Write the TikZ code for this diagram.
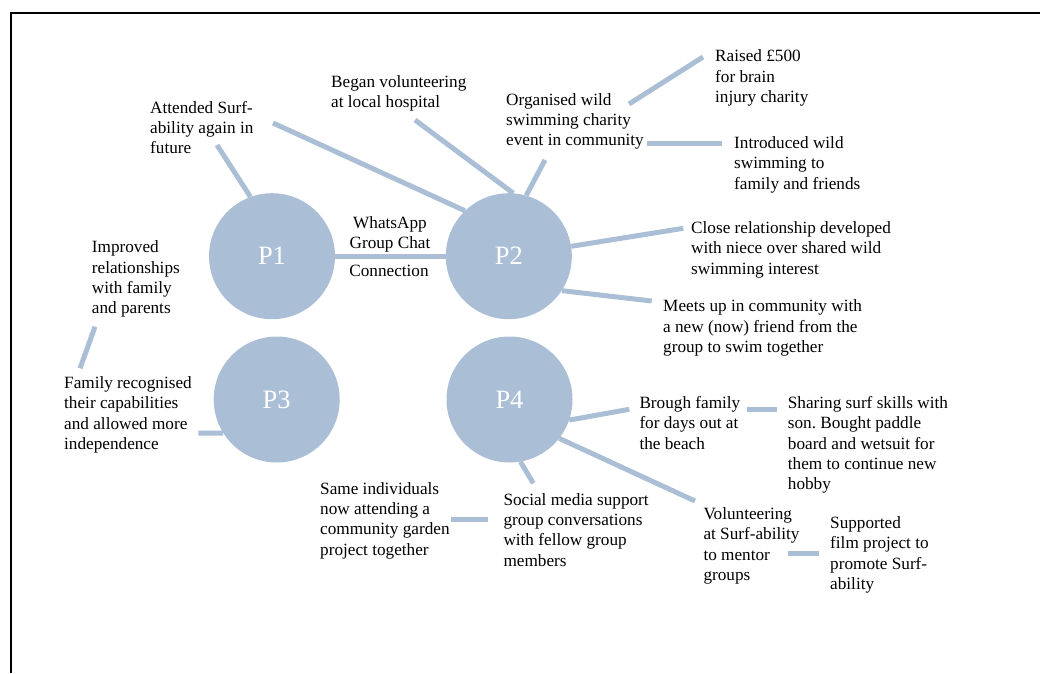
\documentclass[tikz,border=0pt]{standalone}
\usepackage{fontspec}
\setmainfont{Liberation Serif}
\definecolor{pblue}{RGB}{170,191,214}
\newcommand{\firstln}{\rule{0pt}{12pt}}
\frenchspacing
\begin{document}
\begin{tikzpicture}[x=1pt,y=-1pt,
  txt/.style={anchor=north west, inner sep=0pt, align=left, font=\fontsize{17.2}{20.3}\selectfont},
  ctxt/.style={anchor=north, inner sep=0pt, align=center, font=\fontsize{17.2}{20.3}\selectfont},
  pcircle/.style={circle, fill=pblue, draw=none, minimum size=126pt, inner sep=0pt, text=white, font=\fontsize{26.5}{30}\selectfont},
  conn/.style={draw=pblue, line width=5pt}]
\useasboundingbox (0,0) rectangle (1040,673);
\fill[white] (0,0) rectangle (1040,673);
% frame
\draw[line width=2pt] (11,673) -- (11,13) -- (1040,13);

% circles
\node[pcircle] (p1) at (272,256.2) {P1};
\node[pcircle] (p2) at (508.8,256.2) {P2};
\node[pcircle] (p3) at (276.7,399.5) {P3};
\node[pcircle] (p4) at (509.5,399.5) {P4};

% texts
\node[txt] (t1) at (150,100.7) {\firstln Attended Surf-\\ability again in\\future};
\node[txt] (t2) at (331,75.3) {\firstln Began volunteering\\at local hospital};
\node[txt] (t3) at (506,93) {\firstln Organised wild\\swimming charity\\event in community};
\node[txt] (t4) at (715,49.7) {\firstln Raised £500\\for brain\\injury charity};
\node[txt] (t5) at (734,136.3) {\firstln Introduced wild\\swimming to\\family and friends};
\node[txt] (t6) at (691,221.3) {\firstln Close relationship developed\\with niece over shared wild\\swimming interest};
\node[txt] (t7) at (663,299.7) {\firstln Meets up in community with\\a new (now) friend from the\\group to swim together};
\node[ctxt] (t8) at (390,216.3) {\firstln WhatsApp\\Group Chat};
\node[ctxt] (t9) at (389,264) {\firstln Connection};
\node[txt] (t10) at (91.7,240.7) {\firstln Improved\\relationships\\with family\\and parents};
\node[txt] (t11) at (64,376.3) {\firstln Family recognised\\their capabilities\\and allowed more\\independence};
\node[txt] (t12) at (320,482) {\firstln Same individuals\\now attending a\\community garden\\project together};
\node[txt] (t13) at (503.3,493) {\firstln Social media support\\group conversations\\with fellow group\\members};
\node[txt] (t14) at (639.3,396.3) {\firstln Brough family\\for days out at\\the beach};
\node[txt] (t15) at (787.7,396.3) {\firstln Sharing surf skills with\\son. Bought paddle\\board and wetsuit for\\them to continue new\\hobby};
\node[txt] (t16) at (703.3,507.3) {\firstln Volunteering\\at Surf-ability\\to mentor\\groups};
\node[txt] (t17) at (830,516.3) {\firstln Supported\\film project to\\promote Surf-\\ability};

% free ends of connectors
\coordinate (ca) at (217,145);
\coordinate (cb) at (273,123);
\coordinate (cc) at (415,120);
\coordinate (cd) at (545,160);
\coordinate (ce1) at (629,104);
\coordinate (ce2) at (703,57);
\coordinate (cf1) at (647,143.3);
\coordinate (cf2) at (722,143.3);
\coordinate (cg) at (683.3,228.3);
\coordinate (ch) at (651.7,301);
\coordinate (cj1) at (95,326.7);
\coordinate (cj2) at (80,368.3);
\coordinate (ck) at (198.3,433);
\coordinate (cl) at (533.3,483.3);
\coordinate (cm1) at (450.7,519.3);
\coordinate (cm2) at (488.3,519.3);
\coordinate (cn) at (629.3,409.3);
\coordinate (co) at (695,501);
\coordinate (cp1) at (746.7,409.3);
\coordinate (cp2) at (776.7,409.3);
\coordinate (cq1) at (788.3,553.3);
\coordinate (cq2) at (819,553.3);

% connectors
\draw[conn] (p1.east) -- (p2.west);
\draw[conn] (p1.110) -- (ca);
\draw[conn] (p2.134) -- (cb);
\draw[conn] (p2.86) -- (cc);
\draw[conn] (p2.74) -- (cd);
\draw[conn] (ce1) -- (ce2);
\draw[conn] (cf1) -- (cf2);
\draw[conn] (p2.9) -- (cg);
\draw[conn] (p2.-33) -- (ch);
\draw[conn] (cj1) -- (cj2);
\draw[conn] (p3.212) -- (ck);
\draw[conn] (p4.-80) -- (cl);
\draw[conn] (cm1) -- (cm2);
\draw[conn] (p4.-19.6) -- (cn);
\draw[conn] (p4.-38) -- (co);
\draw[conn] (cp1) -- (cp2);
\draw[conn] (cq1) -- (cq2);
\end{tikzpicture}
\end{document}
